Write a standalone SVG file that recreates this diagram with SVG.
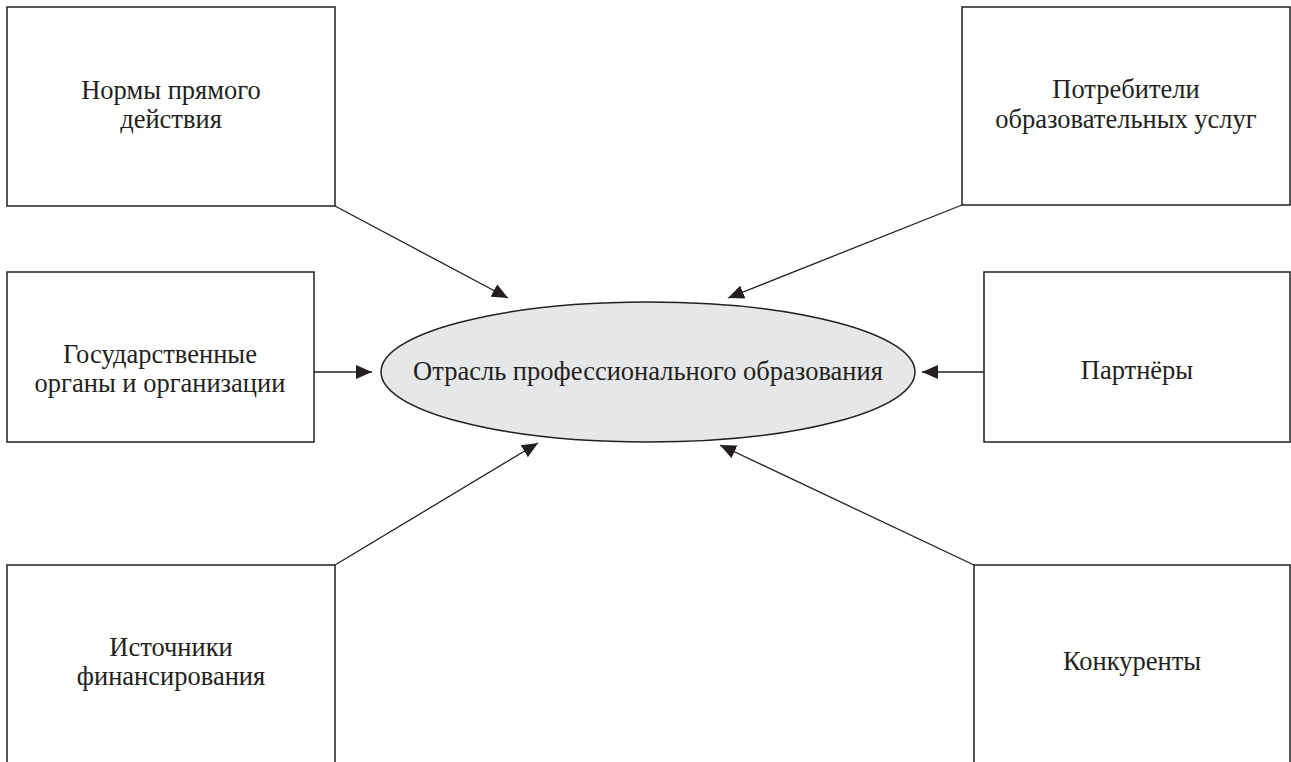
<svg xmlns="http://www.w3.org/2000/svg" width="1291" height="762" viewBox="0 0 1291 762">
<style>
.box{fill:#fff;stroke:#231f20;stroke-width:1.5}
.t{font-family:"Liberation Serif","Times New Roman",serif;font-size:26.5px;fill:#231f20;text-anchor:middle}
.c{stroke:#231f20;stroke-width:1.3;fill:none;marker-end:url(#ah)}
</style>
<defs>
<marker id="ah" markerUnits="userSpaceOnUse" markerWidth="18" markerHeight="14" refX="16" refY="7" orient="auto">
<path d="M0,0 L16,7 L0,14 Z" fill="#231f20"/>
</marker>
</defs>
<rect width="1291" height="762" fill="#fff"/>
<g id="n-normy"><rect class="box" x="7" y="7" width="328" height="199"/><text class="t" x="171" y="99">Нормы прямого</text><text class="t" x="171" y="128">действия</text></g>
<g id="n-potrebiteli"><rect class="box" x="962" y="7" width="328" height="198"/><text class="t" x="1126" y="98">Потребители</text><text class="t" x="1126" y="128">образовательных услуг</text></g>
<g id="n-gos"><rect class="box" x="7" y="272" width="307" height="170"/><text class="t" x="160" y="363">Государственные</text><text class="t" x="160" y="392">органы и организации</text></g>
<g id="n-partnery"><rect class="box" x="984" y="272" width="306" height="170"/><text class="t" x="1137" y="379">Партнёры</text></g>
<g id="n-istochniki"><rect class="box" x="7" y="565" width="328" height="240"/><text class="t" x="171" y="656">Источники</text><text class="t" x="171" y="685">финансирования</text></g>
<g id="n-konkurenty"><rect class="box" x="974" y="565" width="316" height="240"/><text class="t" x="1132" y="670">Конкуренты</text></g>
<g id="n-center"><ellipse cx="648" cy="372" rx="267" ry="70" fill="#e6e7e8" stroke="#231f20" stroke-width="1.5"/><text class="t" x="648" y="380">Отрасль профессионального образования</text></g>
<g id="connectors">
<line class="c" x1="335" y1="206" x2="508" y2="298"/>
<line class="c" x1="962" y1="205" x2="728" y2="298"/>
<line class="c" x1="314" y1="372" x2="372" y2="372"/>
<line class="c" x1="984" y1="372" x2="922" y2="372"/>
<line class="c" x1="335" y1="565" x2="538" y2="443"/>
<line class="c" x1="974" y1="565" x2="720" y2="445"/>
</g>
</svg>
